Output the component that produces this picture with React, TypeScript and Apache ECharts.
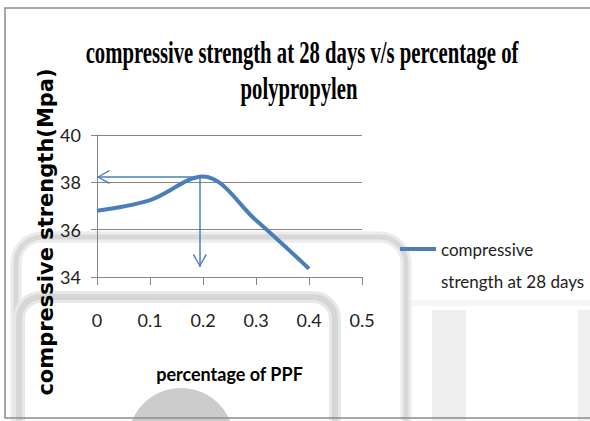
import React, { useEffect, useRef } from "react";
import * as echarts from "echarts";

// ---- data ----
const ppfPercent = [0, 0.1, 0.2, 0.3, 0.4];
const strength28 = [36.8, 37.25, 38.25, 36.4, 34.35];
const seriesName = "compressive strength at 28 days";
const titleLines = ["compressive strength at 28 days v/s percentage of", "polypropylen"];
const xAxisTitle = "percentage of PPF";
const yAxisTitle = "compressive strength(Mpa)";
const xRange = [0, 0.5, 0.1]; // min, max, step
const yRange = [34, 40, 2];
// arrow annotations: from peak to axis
const arrowPeak = [0.2, 38.23];
const arrowLeftTarget = [0, 38.23];
const arrowDownFrom = [0.194, 38.23];
const arrowDownTarget = [0.194, 34.42];

const BLUE = "#4a7ebb";
const GRID = "#868686";
const NARROW = "Lato, 'Open Sans', sans-serif";
const ARROW_PATH = "path://M7,0 L14,12 L12.8,13 L7,2.4 L1.2,13 L0,12 Z";

export default function App() {
  const ref = useRef<HTMLDivElement>(null);
  useEffect(() => {
    if (!ref.current) return;
    const chart = echarts.init(ref.current, undefined, { renderer: "svg" });
    const option: any = {
      animation: false,
      backgroundColor: "#ffffff",
      graphic: [
        // watermark shapes
        { type: "circle", z: -10, shape: { cx: 181, cy: 441, r: 53 }, style: { fill: "#cccccc" } },
        { type: "rect", z: -10, shape: { x: 432, y: 310, width: 34, height: 120 }, style: { fill: "#eeeeee" } },
        { type: "rect", z: -10, shape: { x: 578, y: 310, width: 20, height: 120 }, style: { fill: "#f0f0f0" } },
        { type: "rect", z: -10, shape: { x: 405, y: 300, width: 190, height: 6 }, style: { fill: "#f6f6f6" } },
        {
          type: "rect", z: -9,
          shape: { x: 16, y: 237, width: 390, height: 260, r: 26 },
          style: { fill: "none", stroke: "#ececec", lineWidth: 11 },
        },
        {
          type: "rect", z: -9,
          shape: { x: 16, y: 237, width: 390, height: 260, r: 26 },
          style: { fill: "none", stroke: "#d8d8d8", lineWidth: 5 },
        },
        {
          type: "rect", z: -8,
          shape: { x: 19, y: 297, width: 316, height: 200, r: 22 },
          style: { fill: "none", stroke: "#e8e8e8", lineWidth: 12 },
        },
        {
          type: "rect", z: -8,
          shape: { x: 19, y: 297, width: 316, height: 200, r: 22 },
          style: { fill: "none", stroke: "#d6d6d6", lineWidth: 6 },
        },
        // outer chart frame
        {
          type: "rect", z: -5,
          shape: { x: 5, y: 8, width: 600, height: 410 },
          style: { fill: "none", stroke: "#8c8c8c", lineWidth: 1.5 },
        },
        // title (condensed serif)
        {
          type: "text", x: 302, y: 52, scaleX: 0.69, scaleY: 1.05,
          style: {
            text: titleLines[0], textAlign: "center", textVerticalAlign: "middle",
            font: "bold 30px 'Liberation Serif', 'Times New Roman', serif", fill: "#000",
          },
        },
        {
          type: "text", x: 299, y: 88, scaleX: 0.69, scaleY: 1.05,
          style: {
            text: titleLines[1], textAlign: "center", textVerticalAlign: "middle",
            font: "bold 30px 'Liberation Serif', 'Times New Roman', serif", fill: "#000",
          },
        },
      ],
      grid: { left: 97, right: 228, top: 135, bottom: 144, containLabel: false },
      legend: {
        left: 400, top: 201, padding: 0,
        icon: "rect", itemWidth: 36, itemHeight: 4,
        data: [seriesName],
        formatter: () => "\ncompressive\nstrength at 28 days",
        textStyle: {
          fontFamily: NARROW, fontSize: 17, color: "#222", lineHeight: 32,
        },
      },
      xAxis: {
        type: "value", min: xRange[0], max: xRange[1], interval: xRange[2],
        name: xAxisTitle, nameLocation: "middle", nameGap: 88,
        nameTextStyle: { fontFamily: NARROW, fontSize: 18, fontWeight: "bold", color: "#000" },
        axisLine: { show: true, lineStyle: { color: GRID, width: 1 } },
        axisTick: { show: true, length: 8, lineStyle: { color: GRID } },
        axisLabel: {
          margin: 34, fontFamily: NARROW, fontSize: 18, color: "#222",
          formatter: (v: number) => String(Math.round(v * 10) / 10),
        },
        splitLine: { show: false },
      },
      yAxis: {
        type: "value", min: yRange[0], max: yRange[1], interval: yRange[2],
        name: yAxisTitle, nameLocation: "middle", nameGap: 40, nameRotate: 90,
        nameTextStyle: {
          fontFamily: "'DejaVu Sans', Verdana, sans-serif", fontSize: 21, fontWeight: "bold",
          color: "#000", padding: [0, 52, 0, 0],
        },
        axisLine: { show: true, lineStyle: { color: GRID, width: 1 } },
        axisTick: { show: true, length: 6, lineStyle: { color: GRID } },
        axisLabel: { margin: 16, fontFamily: NARROW, fontSize: 18, color: "#222" },
        splitLine: { show: true, lineStyle: { color: GRID, width: 1 } },
      },
      series: [
        {
          name: seriesName,
          type: "line",
          data: ppfPercent.map((x, i) => [x, strength28[i]]),
          smooth: 0.35,
          symbol: "none",
          clip: false,
          lineStyle: { color: BLUE, width: 4 },
          itemStyle: { color: BLUE },
          markLine: {
            silent: true,
            symbol: ["none", ARROW_PATH],
            symbolSize: [14, 13],
            symbolOffset: [[0, 0], [0, 6.5]],
            label: { show: false },
            lineStyle: { color: BLUE, width: 1.5, type: "solid" },
            emphasis: { disabled: true },
            data: [
              [{ coord: arrowPeak }, { coord: arrowLeftTarget }],
              [{ coord: arrowDownFrom }, { coord: arrowDownTarget }],
            ],
          },
        },
      ],
    };
    chart.setOption(option);
    return () => chart.dispose();
  }, []);
  return (
    <div
      ref={ref}
      style={{ position: "absolute", left: 0, top: 0, width: 590, height: 421 }}
    />
  );
}
